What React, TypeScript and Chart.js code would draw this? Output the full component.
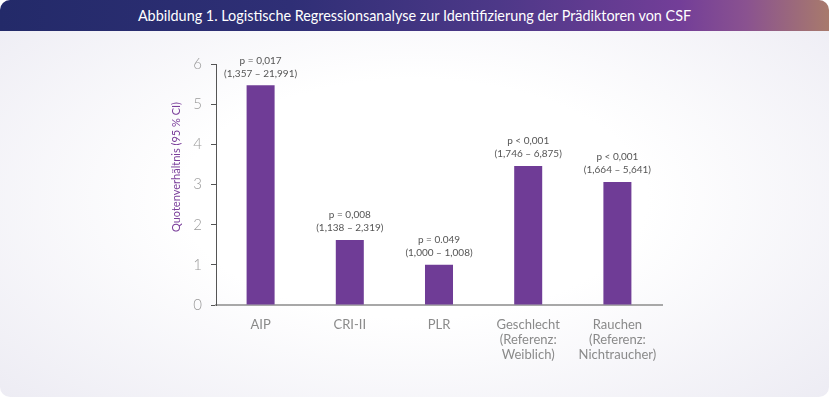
import React, { useEffect, useRef } from "react";
import { Chart, registerables } from "chart.js";

Chart.register(...registerables);

const categories: string[][] = [
  ["AIP"],
  ["CRI-II"],
  ["PLR"],
  ["Geschlecht", "(Referenz:", "Weiblich)"],
  ["Rauchen", "(Referenz:", "Nichtraucher)"],
];
const oddsRatios: number[] = [5.47, 1.62, 1.0, 3.46, 3.06];
const pValues: string[] = ["p = 0,017", "p = 0,008", "p = 0.049", "p < 0,001", "p < 0,001"];
const confIntervals: string[] = [
  "(1,357 – 21,991)",
  "(1,138 – 2,319)",
  "(1,000 – 1,008)",
  "(1,746 – 6,875)",
  "(1,664 – 5,641)",
];
const yTicks: number[] = [0, 1, 2, 3, 4, 5, 6];
const titleText = "Abbildung 1. Logistische Regressionsanalyse zur Identifizierung der Prädiktoren von CSF";
const yAxisTitle = "Quotenverhältnis (95 % CI)";

const FONT = "Lato, 'Open Sans', sans-serif";

const annotationPlugin = {
  id: "barAnnotations",
  afterDatasetsDraw(chart: any) {
    const ctx = chart.ctx;
    const meta = chart.getDatasetMeta(0);
    ctx.save();
    ctx.fillStyle = "#555555";
    ctx.font = `400 10px ${FONT}`;
    ctx.textAlign = "center";
    ctx.textBaseline = "middle";
    meta.data.forEach((el: any, i: number) => {
      ctx.fillText(pValues[i], el.x, el.y - 25);
      ctx.fillText(confIntervals[i], el.x, el.y - 12);
    });
    // y-axis title
    const area = chart.chartArea;
    ctx.translate(176, area.top + 103);
    ctx.rotate(-Math.PI / 2);
    ctx.fillStyle = "#7a3e9a";
    ctx.font = `400 11px ${FONT}`;
    ctx.fillText(yAxisTitle, 0, 0);
    ctx.restore();
  },
};

export default function App() {
  const canvasRef = useRef<HTMLCanvasElement | null>(null);

  useEffect(() => {
    if (!canvasRef.current) return;
    const chart = new Chart(canvasRef.current, {
      type: "bar",
      data: {
        labels: categories,
        datasets: [
          {
            data: oddsRatios,
            backgroundColor: "#6f3c96",
            barPercentage: 0.314,
            categoryPercentage: 1,
          },
        ],
      },
      options: {
        animation: false,
        responsive: false,
        maintainAspectRatio: false,
        layout: { padding: { left: 169, right: 167, top: 64, bottom: 0 } },
        plugins: {
          legend: { display: false },
          tooltip: { enabled: false },
        },
        scales: {
          x: {
            grid: { display: false, drawTicks: false },
            border: { display: true, color: "#a8a8a8", width: 2 },
            ticks: {
              color: "#8a8a8a",
              font: { family: FONT, size: 13, lineHeight: 1.15 },
              padding: 12,
              maxRotation: 0,
              autoSkip: false,
            },
            afterFit: (s: any) => {
              s.height = 92;
            },
          },
          y: {
            min: 0,
            max: 6,
            afterBuildTicks: (s: any) => {
              s.ticks = yTicks.map((v) => ({ value: v }));
            },
            grid: { drawOnChartArea: false, drawTicks: true, tickLength: 5, color: "#555555", lineWidth: 1 },
            border: { display: true, color: "#555555", width: 1 },
            ticks: {
              color: "#9a9a9a",
              font: { family: FONT, size: 15, weight: "300" },
              padding: 9,
            },
            title: { display: false },
            afterFit: (s: any) => {
              s.width = 47;
            },
          },
        },
      },
      plugins: [annotationPlugin],
    });
    return () => chart.destroy();
  }, []);

  return (
    <div
      style={{
        position: "absolute",
        left: 0,
        top: 0,
        width: 829,
        height: 397,
        background: "#ffffff",
      }}
    >
      <div
        style={{
          position: "absolute",
          left: 0,
          top: 0,
          width: 829,
          height: 397,
          borderRadius: 10,
          overflow: "hidden",
          background:
            "radial-gradient(ellipse 70% 75% at 50% 50%, #ffffff 40%, #ecebf3 100%)",
        }}
      >
        <div
          style={{
            position: "absolute",
            left: 0,
            top: 0,
            width: 829,
            height: 31,
            background:
              "linear-gradient(90deg, #232a69 0%, #2f2f76 35%, #4d3888 60%, #733e98 82%, #8a5290 90%, #a87a6c 100%)",
            color: "#ffffff",
            fontFamily: FONT,
            fontSize: 14.4,
            lineHeight: "31px",
            textAlign: "center",
          }}
        >
          {titleText}
        </div>
        <canvas
          ref={canvasRef}
          width={829}
          height={397}
          style={{ position: "absolute", left: 0, top: 0, width: 829, height: 397 }}
        />
      </div>
    </div>
  );
}
